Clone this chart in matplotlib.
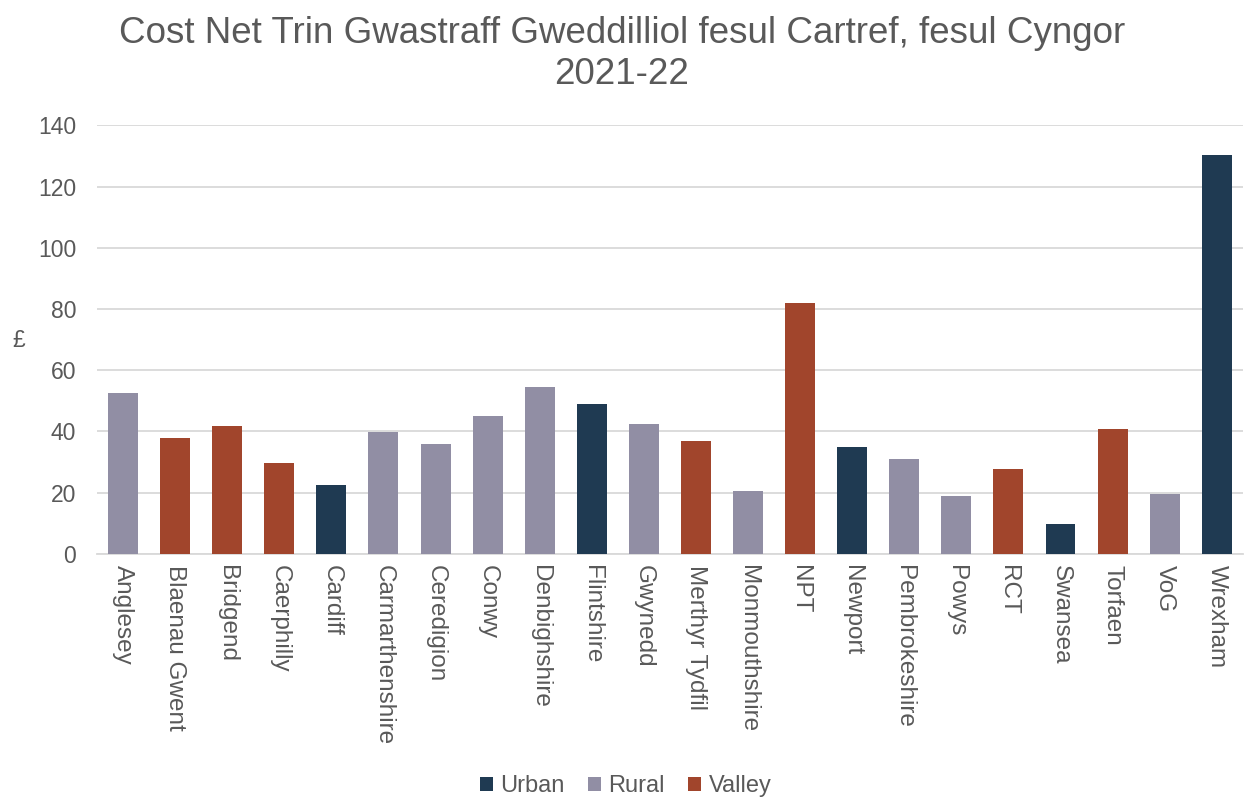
import matplotlib
matplotlib.use("Agg")
import matplotlib.pyplot as plt
from matplotlib.patches import Patch

plt.rcParams['font.family'] = ['Liberation Sans', 'DejaVu Sans']

councils = ["Anglesey", "Blaenau Gwent", "Bridgend", "Caerphilly", "Cardiff",
            "Carmarthenshire", "Ceredigion", "Conwy", "Denbighshire", "Flintshire",
            "Gwynedd", "Merthyr Tydfil", "Monmouthshire", "NPT", "Newport",
            "Pembrokeshire", "Powys", "RCT", "Swansea", "Torfaen", "VoG", "Wrexham"]
costs = [52.7, 37.7, 41.7, 29.7, 22.4, 39.7, 35.8, 45.0, 54.4, 48.9, 42.4, 36.8,
         20.5, 82.0, 34.8, 30.9, 18.8, 27.7, 9.7, 40.8, 19.7, 130.2]
groups = ["Rural", "Valley", "Valley", "Valley", "Urban", "Rural", "Rural", "Rural",
          "Rural", "Urban", "Rural", "Valley", "Rural", "Valley", "Urban", "Rural",
          "Rural", "Valley", "Urban", "Valley", "Rural", "Urban"]
group_names = ["Urban", "Rural", "Valley"]
group_colors = {"Urban": "#1F3A52", "Rural": "#918EA4", "Valley": "#A1452C"}
yticks = [0, 20, 40, 60, 80, 100, 120, 140]

title = "Cost Net Trin Gwastraff Gweddilliol fesul Cartref, fesul Cyngor\n2021-22"
text_color = "#595959"

fig = plt.figure(figsize=(12.44, 7.98), dpi=100)
ax = fig.add_axes([0.078, 0.306, 0.921, 0.537])

x = list(range(len(councils)))
ax.bar(x, costs, width=0.575, color=[group_colors[g] for g in groups], zorder=3)

ax.set_xlim(-0.5, len(councils) - 0.5)
ax.set_ylim(0, 140)
ax.set_yticks(yticks)
ax.set_yticklabels([str(v) for v in yticks], fontsize=16.5, color=text_color)
ax.set_xticks(x)
ax.set_xticklabels(councils, rotation=270, fontsize=17.5, color=text_color,
                   va="top", ha="center")
ax.tick_params(axis="both", length=0)
ax.tick_params(axis="y", pad=15)
ax.tick_params(axis="x", pad=8)
ax.grid(axis="y", color="#D9D9D9", linewidth=1.3, zorder=0)
for s in ["top", "right", "left"]:
    ax.spines[s].set_visible(False)
ax.spines["bottom"].set_color("#D9D9D9")
ax.spines["bottom"].set_linewidth(1.3)

fig.text(0.015, 0.573, "£", fontsize=16.5, color=text_color, ha="center", va="center")
fig.text(0.500, 0.980, title, fontsize=26.5, color=text_color, ha="center", va="top",
         linespacing=1.24)

handles = [Patch(facecolor=group_colors[g], label=g) for g in group_names]
fig.legend(handles=handles, loc="lower center", bbox_to_anchor=(0.503, -0.026), ncol=3,
           frameon=False, fontsize=17, handlelength=0.55, handleheight=0.55,
           handletextpad=0.3, columnspacing=1.0, labelcolor=text_color)

fig.savefig("out.png", dpi=100)
